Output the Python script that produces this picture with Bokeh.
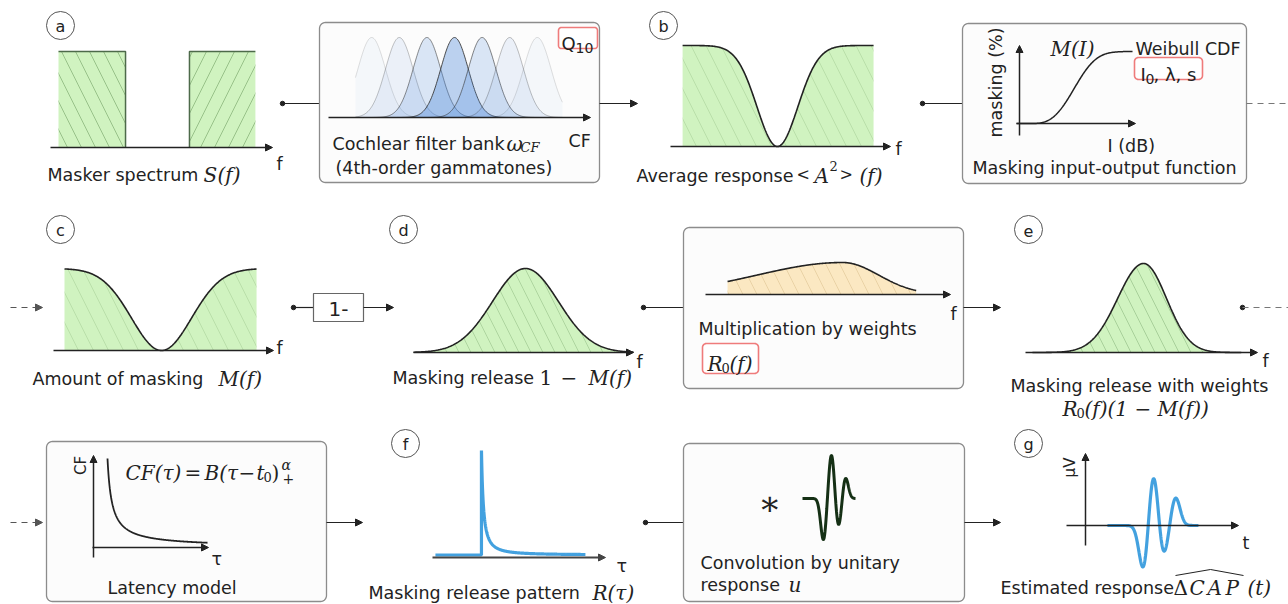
import numpy as np
from bokeh.plotting import figure
from bokeh.models import Range1d, Arrow, NormalHead
from bokeh.core.properties import value
from bokeh.embed import file_html
from bokeh.resources import INLINE

W, H = 1288, 604
SANS = "DejaVu Sans"
SERIF = "DejaVu Serif"
INK = "#222222"
GREEN = "#d0f3c0"
GREEN_HATCH = "#5f8f52"
BEIGE = "#fbe8c2"
BLUE = "#2f97dc"
RED_EDGE = "#ef7b7b"
BOX_EDGE = "#8c8c8c"

# ---------------- values shown in the panels ----------------
# (a) masker: two noise bands on a 0-10 frequency axis
masker_band_lo = [0.36, 6.26]
masker_band_hi = [3.38, 9.23]
masker_level = [1.0, 1.0]

# cochlear filter bank: filter index, shading and bandwidth
filter_cf = [1, 2, 3, 4, 5, 6, 7]
filter_fill_alpha = [0.04, 0.09, 0.18, 0.34, 0.18, 0.09, 0.04]
filter_line_alpha = [0.15, 0.28, 0.55, 0.85, 0.6, 0.3, 0.15]
filter_bw = [0.5]
filter_span = [0.41, 7.91]

# (b) average response: notch centre / width, frequency span
avg_notch = [4.86, 0.93]
avg_span = [0.55, 9.23]

# Weibull masking I/O function: I0, lambda, s (I axis 0-10)
weibull_params = [1.18, 4.2, 3.0]
weibull_span = [0.0, 9.75]

# (c) amount of masking
mask_notch = [4.91, 1.36]
mask_span = [0.5, 9.23]

# (d) masking release 1 - M(f)
release_peak = [5.09, 1.5]

# weights R0(f): peak, left width, right width, span
weights_peak = [5.6, 3.5, 1.47]
weights_span = [0.9, 8.6]

# (e) weighted release: peak, left width, right width
weighted_peak = [5.09, 1.12, 0.99]

# latency model CF(tau) = B (tau - t0)^alpha (axis units)
latency_params = [310.0, 11.0, -0.9]
latency_span = [15.0, 115.0]

# (f) masking release pattern R(tau): onset, decay constant, span
pattern_onset = [2.83]
pattern_decay = [0.173, 1.5]
pattern_span = [0.17, 8.84]

# unitary response u: lobe centres, amplitudes, lobe width
unit_centres = [3.96, 5.47, 6.79, 8.11]
unit_amps = [-0.93, 1.0, -0.64, 0.47]
unit_width = [0.53]
unit_span = [0.0, 10.0]

# (g) estimated CAP: lobe centres, amplitudes, lobe width
cap_centres = [4.48, 5.06, 5.64, 6.34]
cap_amps = [-0.85, 1.0, -0.57, 0.53]
cap_width = [0.26]
cap_span = [2.38, 7.67]

# ---------------- figure ----------------
p = figure(width=W, height=H, x_range=Range1d(0, W), y_range=Range1d(H, 0),
           output_backend="svg", toolbar_location=None, min_border=0,
           x_axis_location=None, y_axis_location=None)
p.grid.visible = False
p.outline_line_color = None
p.background_fill_color = "white"
p.border_fill_color = "white"


def frame(x0, x1, yb, yt, xmax=10.0, hmax=1.0):
    sx = (x1 - x0) / xmax
    sy = (yb - yt) / hmax
    return (lambda u: x0 + np.asarray(u, float) * sx), (lambda h: yb - np.asarray(h, float) * sy)


def label(x, y, s, size=17.5, font=SANS, style="normal", align="left",
          baseline="alphabetic", angle=0.0, color=INK):
    p.text(x=[x], y=[y], text=[s], text_font=value(font), text_font_size=f"{size}px",
           text_font_style=style, text_align=align, text_baseline=baseline,
           angle=angle, text_color=color)


def math(x, y, s, size=20, style="italic"):
    label(x, y, s, size=size, font=SERIF, style=style)


def arrow(x0, y0, x1, y1, dash="solid", color=INK, lw=1.2, head=7):
    p.add_layout(Arrow(end=NormalHead(size=head, fill_color=color, line_color=color, line_width=1),
                       x_start=x0, y_start=y0, x_end=x1, y_end=y1,
                       line_color=color, line_width=lw, line_dash=dash))


def seg(x0, y0, x1, y1, dash="solid", color=INK, lw=1.2):
    p.segment(x0=[x0], y0=[y0], x1=[x1], y1=[y1], line_color=color, line_width=lw, line_dash=dash)


def dot(x, y):
    p.scatter(x=[x], y=[y], size=4.5, color=INK)


def rbox(x0, y0, x1, y1, r=6, fill="#fcfcfc", line=BOX_EDGE, lw=1.3):
    xs, ys = [], []
    corners = [(x1 - r, y0 + r, -90, 0), (x1 - r, y1 - r, 0, 90),
               (x0 + r, y1 - r, 90, 180), (x0 + r, y0 + r, 180, 270)]
    for cx, cy, a0, a1 in corners:
        t = np.radians(np.linspace(a0, a1, 8))
        xs.extend(cx + r * np.cos(t))
        ys.extend(cy + r * np.sin(t))
    p.patch(xs, ys, fill_color=fill, line_color=line, line_width=lw)


def tag(x, y, letter):
    p.scatter(x=[x], y=[y], size=28, fill_color="white", line_color="#555555", line_width=1)
    label(x, y + 1, letter, size=16, align="center", baseline="middle")


def gauss(u, c, s):
    return np.exp(-(u - c) ** 2 / (2 * s ** 2))


def agauss(u, c, sl, sr):
    s = np.where(u < c, sl, sr)
    return np.exp(-(u - c) ** 2 / (2 * s ** 2))


def green_area(FX, FY, u, h, hatch="\\", halpha=0.25, scale=28, line=True):
    p.varea(x=FX(u), y1=FY(np.zeros_like(u)), y2=FY(h), fill_color=GREEN,
            hatch_pattern=hatch, hatch_color=GREEN_HATCH, hatch_alpha=halpha,
            hatch_scale=scale, hatch_weight=1)
    if line:
        p.line(FX(u), FY(h), line_color=INK, line_width=1.6)


# ================= row 1 =================
# (a) masker spectrum
tag(60, 25, "a")
FX, FY = frame(50, 272, 147, 51)
for lo, hi, lev, pat in zip(masker_band_lo, masker_band_hi, masker_level, ["\\", "/"]):
    p.varea(x=FX([lo, hi]), y1=FY([0, 0]), y2=FY([lev, lev]), fill_color=GREEN,
            hatch_pattern=pat, hatch_color=GREEN_HATCH, hatch_alpha=0.5, hatch_scale=28,
            hatch_weight=1)
lo0, hi0, lo1, hi1 = masker_band_lo[0], masker_band_hi[0], masker_band_lo[1], masker_band_hi[1]
p.line(FX([lo0, hi0, hi0]), FY([masker_level[0], masker_level[0], 0]), line_color="#4d6a4a", line_width=1.5)
p.line(FX([lo1, lo1, hi1]), FY([0, masker_level[1], masker_level[1]]), line_color="#4d6a4a", line_width=1.5)
arrow(FX(0), 147, FX(10), 147, lw=1.5)
label(276, 163, "f")
label(47, 174, "Masker spectrum")
math(203, 174, "S")
math(217, 174, "(f)")
dot(282, 103)
seg(282, 103, 319, 103)

# cochlear filter bank
rbox(319, 22, 599, 182)
FX, FY = frame(454 - 4 * 27.6, 454 + 6 * 27.6, 117, 37)
uf = np.linspace(filter_span[0], filter_span[1], 300)
for cf, fa, la in zip(filter_cf, filter_fill_alpha, filter_line_alpha):
    hf = gauss(uf, cf, filter_bw[0])
    p.varea(x=FX(uf), y1=FY(np.zeros_like(uf)), y2=FY(hf), fill_color="#3f7fd6", fill_alpha=fa)
    p.line(FX(uf), FY(hf), line_color="#333333", line_alpha=la, line_width=1)
arrow(328, 117, 590, 117, lw=1.5)
label(568, 140, "CF")
label(332, 143, "Cochlear filter bank")
math(506, 143, "ω")
math(520, 147, "CF", size=13)
label(335, 167, "(4th-order gammatones)")
rbox(558, 27, 597, 48, r=3, fill="white", line=RED_EDGE, lw=1.6)
label(561, 43, "Q", size=18)
label(575, 47, "10", size=14)
arrow(599, 103, 637, 103)

# (b) average response
tag(663, 25, "b")
FX, FY = frame(670, 890, 146, 45)
ub = np.linspace(avg_span[0], avg_span[1], 300)
hb = 1 - gauss(ub, avg_notch[0], avg_notch[1])
green_area(FX, FY, ub, hb, halpha=0.2, scale=30)
arrow(670, 146, 890, 146, lw=1.5)
label(895, 148, "f")
label(636, 175, "Average response")
math(796, 174, "<", size=16, style="normal")
math(814, 175, "A")
math(829, 165, "2", size=13, style="normal")
math(839, 174, ">", size=16, style="normal")
math(859, 175, "(f)")
dot(922, 103)
seg(922, 103, 962, 103)

# masking input-output function
rbox(962, 23, 1246, 183)
FX, FY = frame(1016, 1135, 123, 51)
uw = np.linspace(weibull_span[0], weibull_span[1], 200)
I0, lam, sh = weibull_params
hw = 1 - np.exp(-np.clip((uw - I0) / lam, 0, None) ** sh)
p.line(FX(uw), FY(hw), line_color=INK, line_width=1.5)
arrow(1019, 135, 1019, 45, lw=1.5)
arrow(1016, 123, 1135, 123, lw=1.5)
math(1050, 48, "M(I)")
label(1135, 48, "Weibull CDF")
rbox(1134, 57, 1202, 79, r=4, fill="white", line=RED_EDGE, lw=1.6)
label(1140, 74, "I", size=18)
label(1145, 78, "0", size=14)
label(1153, 74, ", λ, s", size=18)
label(1107, 145, "I (dB)")
label(972, 167, "Masking input-output function")
label(995, 82, "masking (%)", align="center", baseline="middle", angle=np.pi / 2)
seg(1246, 103, 1288, 103, dash="6 5", color="#777777")

# ================= row 2 =================
arrow(10, 307, 42, 307, dash="6 5", color="#555555")

# (c) amount of masking
tag(60, 229, "c")
FX, FY = frame(53, 273, 350, 268)
uc = np.linspace(mask_span[0], mask_span[1], 300)
hc = 1 - gauss(uc, mask_notch[0], mask_notch[1])
green_area(FX, FY, uc, hc, halpha=0.2, scale=30)
arrow(53, 350, 273, 350, lw=1.5)
label(276, 347, "f")
label(32, 378, "Amount of masking")
math(218, 378, "M(f)")

dot(293, 307)
seg(293, 307, 313, 307)
p.quad(left=[313], right=[363], top=[293], bottom=[321], fill_color="white",
       line_color="#666666", line_width=1.2)
label(338, 308, "1-", size=20, align="center", baseline="middle")
arrow(363, 307, 393, 307)

# (d) masking release
tag(403, 229, "d")
FX, FY = frame(413, 633, 352, 268)
ud = np.linspace(0, 10, 300)
hd = gauss(ud, release_peak[0], release_peak[1])
green_area(FX, FY, ud, hd, halpha=0.3, scale=24)
arrow(413, 352, 633, 352, lw=1.5)
label(636, 361, "f")
label(392, 377, "Masking release")
math(539, 377, "1", style="normal")
math(560, 377, "−", style="normal")
math(588, 377, "M(f)")
dot(643, 307)
seg(643, 307, 683, 307)

# multiplication by weights
rbox(683, 227, 963, 388)
FX, FY = frame(705, 950, 294, 262)
uwt = np.linspace(weights_span[0], weights_span[1], 300)
hwt = agauss(uwt, weights_peak[0], weights_peak[1], weights_peak[2])
p.varea(x=FX(uwt), y1=FY(np.zeros_like(uwt)), y2=FY(hwt), fill_color=BEIGE,
        hatch_pattern="\\", hatch_color="#c9a870", hatch_alpha=0.35, hatch_scale=28, hatch_weight=1)
p.line(FX(uwt), FY(hwt), line_color=INK, line_width=1.6)
arrow(705, 294, 950, 294, lw=1.5)
label(950, 313, "f")
label(698, 328, "Multiplication by weights")
rbox(702, 343, 758, 373, r=4, fill="white", line=RED_EDGE, lw=1.6)
math(707, 363, "R")
math(721, 367, "0", size=13, style="normal")
math(729, 363, "(f)")
arrow(963, 307, 1000, 307)

# (e) weighted masking release
tag(1028, 229, "e")
FX, FY = frame(1025, 1257, 352, 263)
ue = np.linspace(0.3, 9.3, 300)
he = agauss(ue, weighted_peak[0], weighted_peak[1], weighted_peak[2])
green_area(FX, FY, ue, he, halpha=0.35, scale=24)
arrow(1025, 352, 1257, 352, lw=1.5)
label(1262, 360, "f")
label(1010, 385, "Masking release with weights")
math(1062, 408, "R")
math(1076, 412, "0", size=13, style="normal")
math(1084, 408, "(f)(1 − M(f))")
dot(1242, 307)
seg(1242, 307, 1288, 307, dash="6 5", color="#777777")

# ================= row 3 =================
arrow(10, 522, 42, 522, dash="6 5", color="#555555")

# latency model
rbox(46, 441, 326, 601)
tl = np.linspace(latency_span[0], latency_span[1], 300)
B, t0, alpha = latency_params
cf_tau = B * (tl - t0) ** alpha
p.line(92 + tl, 547 - cf_tau, line_color=INK, line_width=1.8)
arrow(93, 557, 93, 455, lw=1.5)
arrow(92, 547, 208, 547, lw=1.5)
label(80, 465, "CF", size=15, align="center", baseline="middle", angle=np.pi / 2)
math(125, 472, "CF(τ)")
math(184, 472, "=", style="normal")
math(204, 472, "B(τ")
math(238, 472, "−", style="normal")
math(256, 472, "t")
math(263, 476, "0", size=13, style="normal")
math(271, 472, ")", style="normal")
math(281, 464, "α", size=14)
math(282, 478, "+", size=14, style="normal")
label(211, 558, "τ")
label(107, 587, "Latency model")
arrow(326, 522, 362, 522)

# (f) masking release pattern
tag(405, 443, "f")
FX, FY = frame(432, 605, 554.5, 450)
on = pattern_onset[0]
k, pw = pattern_decay
tail = np.linspace(on, pattern_span[1], 400)
h_tail = (1 + (tail - on) / k) ** (-pw)
tx = np.concatenate([[pattern_span[0], on], tail])
th = np.concatenate([[0.0, 0.0], h_tail])
arrow(432, 557, 605, 557, lw=2, color="#444444")
p.line(FX(tx), FY(th), line_color=BLUE, line_width=3.2, line_alpha=0.9)
label(616, 565, "τ")
label(368, 592, "Masking release pattern")
math(592, 592, "R(τ)")
dot(645, 522)
seg(645, 522, 683, 522)

# convolution by unitary response
rbox(683, 443, 964, 601)
FX, FY = frame(802, 855, 498, 453)
uu = np.linspace(unit_span[0], unit_span[1], 300)
hu = sum(a * gauss(uu, c, unit_width[0]) for c, a in zip(unit_centres, unit_amps))
p.line(FX(uu), FY(hu), line_color="#153015", line_width=3)
label(769, 502, "∗", size=34, font=SERIF, align="center", baseline="middle")
label(700, 562, "Convolution by unitary")
label(700, 584, "response")
math(788, 584, "u")
arrow(964, 522, 1000, 522)

# (g) estimated response
tag(1028, 443, "g")
FX, FY = frame(1066, 1238, 525, 472)
ug = np.linspace(cap_span[0], cap_span[1], 400)
hg = sum(a * gauss(ug, c, cap_width[0]) for c, a in zip(cap_centres, cap_amps))
arrow(1085, 545, 1085, 453, lw=1.5)
arrow(1066, 525, 1238, 525, lw=1.5)
p.line(FX(ug), FY(hg), line_color=BLUE, line_width=3.2, line_alpha=0.9)
label(1069, 467, "μV", size=15, align="center", baseline="middle", angle=np.pi / 2)
label(1242, 542, "t")
label(1000, 587, "Estimated response")
math(1173, 587, "Δ", style="normal")
math(1189, 587, "C")
math(1207, 587, "A")
math(1225, 587, "P")
math(1247, 587, "(t)")
p.line([1175, 1210, 1243], [575, 569, 575], line_color=INK, line_width=1)

open("out.html", "w").write(file_html(p, INLINE))
